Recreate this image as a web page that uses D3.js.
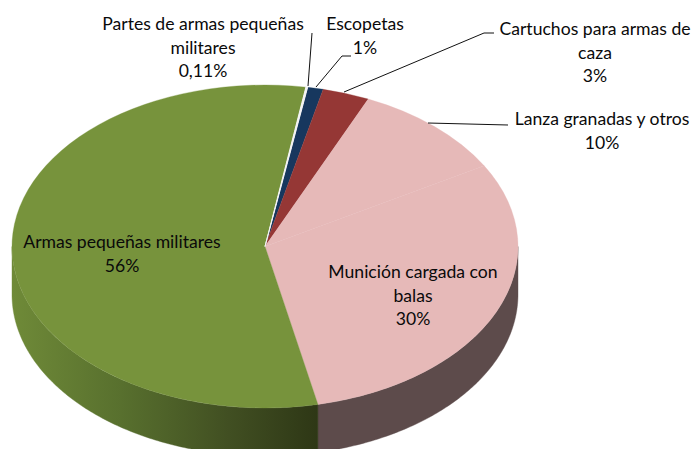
<!DOCTYPE html>
<html><head><meta charset="utf-8">
<script src="https://cdn.jsdelivr.net/npm/d3@7/dist/d3.min.js"></script>
<style>html,body{margin:0;padding:0;background:#fff;overflow:hidden}svg{display:block}text{font-family:Lato,"Open Sans",sans-serif;font-size:17.6px;fill:#0a0a0a;text-anchor:middle}</style>
</head><body><svg id="c" width="697" height="449"></svg>
<script>
(function(){
const categories=["Escopetas","Cartuchos para armas de caza","Lanza granadas y otros","Munición cargada con balas","Armas pequeñas militares","Partes de armas pequeñas militares"];
const values=[1,3,10,30,56,0.11];
const percentLabels=["1%","3%","10%","30%","56%","0,11%"];
const topColors=["#17375E","#953735","#E6B9B8","#E6B9B8","#77933C","#F4F4F4"];
const wallColors=["#0F2540","#632523","#5D4B4B","#5D4B4B","url(#gw)","#ddd"];

const W=697,H=449,cx=265,cy=246.5,rx=253,ry=161.5,depth=48,start=9.7*Math.PI/180;
const svg=d3.select("#c").attr("viewBox",[0,0,W,H]);
const defs=svg.append("defs");
const g=defs.append("linearGradient").attr("id","gw").attr("gradientUnits","userSpaceOnUse")
  .attr("x1",12).attr("x2",322).attr("y1",0).attr("y2",0);
[[0,"#6F8A38"],[.35,"#58702E"],[.7,"#414F22"],[1,"#2D3615"]].forEach(s=>g.append("stop").attr("offset",s[0]).attr("stop-color",s[1]));

const pie=d3.pie().value(d=>d).sort(null).startAngle(start).endAngle(start+2*Math.PI);
const arcs=pie(values);
const px=d3.scaleLinear().domain([-1,1]).range([cx-rx,cx+rx]);
const py=d3.scaleLinear().domain([-1,1]).range([cy-ry,cy+ry]);
// wall, front half only
const front=[Math.PI/2,3*Math.PI/2];
const area=d3.area().x(a=>px(Math.sin(a))).y0(a=>py(-Math.cos(a))).y1(a=>py(-Math.cos(a))+depth);
arcs.forEach((d,i)=>{
  const a0=Math.max(d.startAngle,front[0]),a1=Math.min(d.endAngle,front[1]);
  if(a1<=a0)return;
  const n=Math.ceil((a1-a0)*80);
  const pts=d3.range(n+1).map(k=>a0+(a1-a0)*k/n);
  svg.append("path").attr("d",area(pts)).attr("fill",wallColors[i]).attr("stroke",wallColors[i]).attr("stroke-width",.4);
});
// top face
const arc=d3.arc().innerRadius(0).outerRadius(rx);
const face=svg.append("g").attr("transform",`translate(${cx},${cy}) scale(1,${ry/rx})`);
face.selectAll("path").data(arcs).join("path").attr("d",arc)
  .attr("fill",(d,i)=>topColors[i]).attr("stroke",(d,i)=>topColors[i]).attr("stroke-width",.4);
// thin slice drawn last so it stays visible
face.append("path").datum(arcs[5]).attr("d",arc).attr("fill",topColors[5]).attr("stroke",topColors[5]).attr("stroke-width",1);

// leader lines
const leaders=[[[312,33],[308,86]],[[351,56],[342,56],[316,87]],[[494,33],[484,33],[344,92]],[[508,125],[428,123]]];
const line=d3.line();
leaders.forEach(p=>svg.append("path").attr("d",line(p)).attr("fill","none").attr("stroke","#111").attr("stroke-width",1));

// labels
const labelLayout=[
 {i:5,x:203,y:30,lines:["Partes de armas pequeñas","militares"]},
 {i:0,x:365,y:30,lines:["Escopetas"]},
 {i:1,x:595,y:35,lines:["Cartuchos para armas de","caza"]},
 {i:2,x:602,y:125,lines:["Lanza granadas y otros"]},
 {i:4,x:122,y:248,lines:["Armas pequeñas militares"]},
 {i:3,x:413,y:278,lines:["Munición cargada con","balas"]}];
labelLayout.forEach(l=>{
  const t=svg.append("text").attr("x",l.x).attr("y",l.y);
  [...l.lines,percentLabels[l.i]].forEach((s,k)=>t.append("tspan").attr("x",l.x).attr("dy",k?23.5:0).text(s));
});
})();
</script></body></html>
